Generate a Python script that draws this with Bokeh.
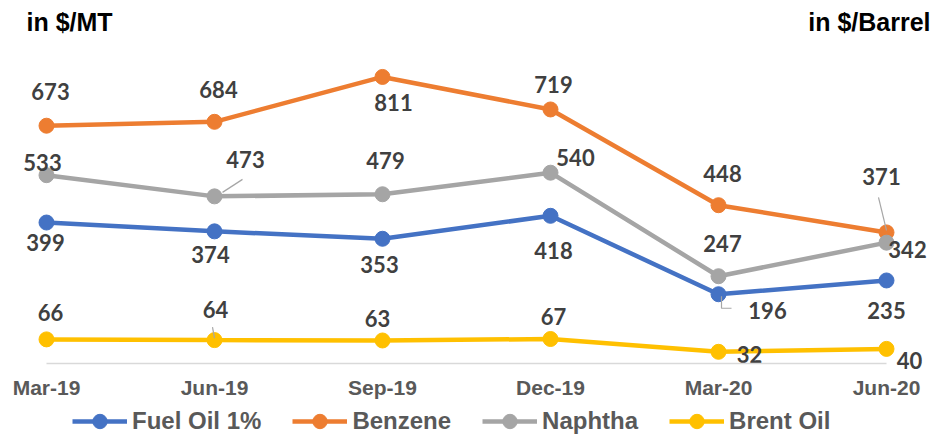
from bokeh.plotting import figure
from bokeh.models import Range1d, FixedTicker, Legend, LegendItem, Label, ColumnDataSource
from bokeh.core.properties import value
from bokeh.embed import file_html
from bokeh.resources import INLINE

# ---------------- data ----------------
categories = ["Mar-19", "Jun-19", "Sep-19", "Dec-19", "Mar-20", "Jun-20"]
fuel_oil = [399, 374, 353, 418, 196, 235]
benzene = [673, 684, 811, 719, 448, 371]
naphtha = [533, 473, 479, 540, 247, 342]
brent = [66, 64, 63, 67, 32, 40]

series_names = ["Fuel Oil 1%", "Benzene", "Naphtha", "Brent Oil"]
colors = ["#4472C4", "#ED7D31", "#A5A5A5", "#FFC000"]

# label placement offsets in screen pixels (+x right, +y down)
fuel_dx = [-1, -4, -3, 3, 49, 0]
fuel_dy = [20, 23, 26, 35, 16, 30]
benz_dx = [4, 4, 11, 3, 4, -5]
benz_dy = [-34, -32, 26, -25, -32, -56]
naph_dx = [-4, 31, 3, 25, 4, 21]
naph_dy = [-13, -37, -34, -15, -33, 7]
brent_dx = [4, 1, -5, 3, 31, 23]
brent_dy = [-27, -31, -22, -23, 3, 12]

# ---------------- geometry ----------------
W, H = 933, 438
FIRST_X, STEP_X = 46, 168          # screen px of first category, px per category
BASE = 363                          # screen px of value 0
PPY1 = 318 / 900                    # px per $/MT
PPY2 = 318 / 870                    # px per $/Barrel
X0 = -FIRST_X / STEP_X
X1 = X0 + W / STEP_X

xs = list(range(len(categories)))

p = figure(width=W, height=H,
           x_range=Range1d(X0, X1),
           y_range=Range1d(-(H - BASE) / PPY1, BASE / PPY1),
           output_backend="svg", toolbar_location=None, y_axis_location=None,
           min_border_left=0, min_border_right=0, min_border_top=0, min_border_bottom=0,
           outline_line_color=None)
p.extra_y_ranges = {"sec": Range1d(-(H - BASE) / PPY2, BASE / PPY2)}
p.xgrid.visible = False
p.ygrid.visible = False

ax = p.xaxis[0]
ax.fixed_location = 0
ax.ticker = FixedTicker(ticks=xs)
ax.major_label_overrides = {i: c for i, c in enumerate(categories)}
ax.bounds = (xs[0], xs[-1])
ax.axis_line_color = "#D9D9D9"
ax.axis_line_width = 1.5
ax.major_tick_line_color = None
ax.minor_tick_line_color = None
ax.major_label_standoff = 6
ax.major_label_text_font = "Liberation Sans"
ax.major_label_text_font_style = "bold"
ax.major_label_text_font_size = "21px"
ax.major_label_text_color = "#595959"

all_series = [fuel_oil, benzene, naphtha, brent]
offsets = [(fuel_dx, fuel_dy), (benz_dx, benz_dy), (naph_dx, naph_dy), (brent_dx, brent_dy)]
legend_items = []
for name, vals, col in zip(series_names, all_series, colors):
    kw = {"y_range_name": "sec"} if name == "Brent Oil" else {}
    src = ColumnDataSource(dict(x=xs, y=vals))
    l = p.line("x", "y", source=src, line_width=4.5, line_color=col, **kw)
    s = p.scatter("x", "y", source=src, size=15, marker="circle", fill_color=col, line_color=col, **kw)
    legend_items.append(LegendItem(label=name, renderers=[l, s]))

# leader lines (from a data point plus pixel offsets)
def leader(series, idx, pts, sec=False):
    ppy = PPY2 if sec else PPY1
    lx = [xs[idx] + dx / STEP_X for dx, dy in pts]
    ly = [series[idx] - dy / ppy for dx, dy in pts]
    return lx, ly

leaders = [
    leader(benzene, 5, [(-8, -35), (0, -2)]),
    leader(naphtha, 1, [(28, -17), (8, -4)]),
    leader(fuel_oil, 4, [(3, 2), (3, 14), (13, 14)]),
]
p.multi_line([a for a, b in leaders], [b for a, b in leaders], line_color="#A6A6A6", line_width=1.2)
bx, by = leader(brent, 1, [(-2, -13), (0, -2)], sec=True)
p.line(bx, by, line_color="#A6A6A6", line_width=1.2, y_range_name="sec")

# data labels
for name, vals, (dxs, dys) in zip(series_names, all_series, offsets):
    kw = {"y_range_name": "sec"} if name == "Brent Oil" else {}
    src = ColumnDataSource(dict(x=xs, y=vals, t=[str(v) for v in vals], dx=dxs, dy=dys))
    p.text("x", "y", text="t", source=src, x_offset="dx", y_offset="dy",
           text_font=value("Lato"), text_font_style="bold", text_font_size="22px",
           text_color="#404040", text_align="center", text_baseline="middle", **kw)

# unit titles
p.add_layout(Label(x=26, y=H - 21, x_units="screen", y_units="screen",
                   text="in $/MT", text_font="Liberation Sans", text_font_style="bold",
                   text_font_size="25px", text_color="black", text_baseline="middle"))
p.add_layout(Label(x=W - 3, y=H - 21, x_units="screen", y_units="screen",
                   text="in $/Barrel", text_font="Liberation Sans", text_font_style="bold",
                   text_font_size="25px", text_color="black", text_baseline="middle",
                   text_align="right"))

legend = Legend(items=legend_items, orientation="horizontal", location=(72, -1),
                glyph_width=55, glyph_height=36, label_standoff=5, spacing=31,
                padding=0, margin=0, border_line_color=None, background_fill_alpha=0,
                label_text_font="Liberation Sans", label_text_font_style="bold",
                label_text_font_size="24px", label_text_color="#595959")
p.add_layout(legend, "center")

open("out.html", "w").write(file_html(p, INLINE))
